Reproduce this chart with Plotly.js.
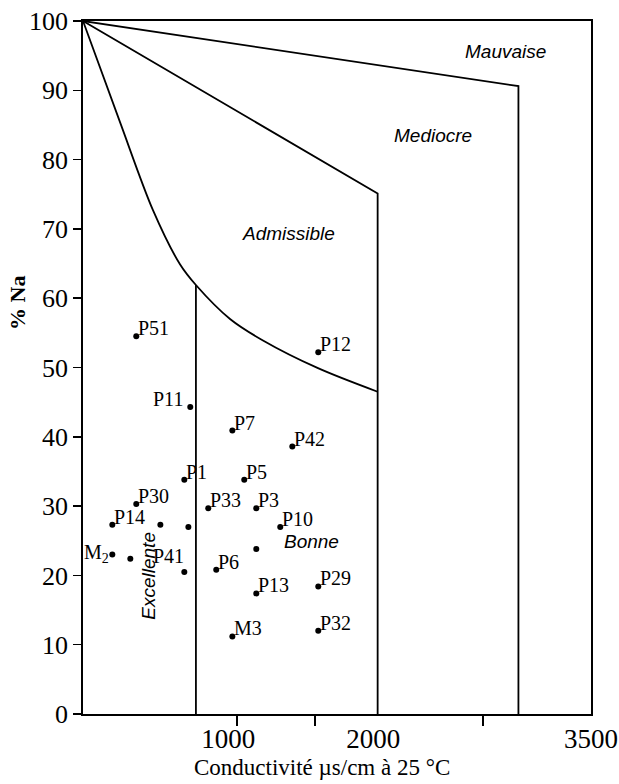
<!DOCTYPE html>
<html>
<head>
<meta charset="utf-8">
<script src="https://cdn.plot.ly/plotly-3.0.1.min.js"></script>
<style>html,body{margin:0;padding:0;background:#fff;}#chart{width:619px;height:784px;}</style>
</head>
<body>
<div id="chart"></div>
<script>
// ---- Data (Wilcox diagram) ----
const stations = ['P51','P12','P11','P7','P42','P1','P5','P30','P33','P3','P14','','','P10','','M<sub>2</sub>','','P41','P6','P13','P29','M3','P32'];
const conductivity = [367,1621,739,1029,1442,698,1111,367,863,1194,202,533,726,1359,1194,202,326,698,918,1194,1621,1029,1621];
const naPercent = [54.5,52.2,44.3,40.9,38.6,33.8,33.8,30.3,29.7,29.7,27.3,27.3,27.0,27.0,23.8,23.0,22.4,20.5,20.8,17.4,18.4,11.2,12.0];

// class boundaries
const admissibleCurveX = [0,255,482,668,778,1013,1240,1619,2030];
const admissibleCurveY = [100,85.4,72.7,64.9,61.9,57.0,53.9,49.9,46.5];
const excellenteLimitX = [778,778];
const excellenteLimitY = [61.9,0];
const mediocreLimitX = [0,2030,2030];
const mediocreLimitY = [100,75.1,0];
const mauvaiseLimitX = [0,3000,3000];
const mauvaiseLimitY = [100,90.6,0];

const classNames = ['Mauvaise','Mediocre','Admissible','Bonne','Excellente'];
const classX = [2908,2408,1419,1571,450];
const classY = [95.6,83.5,69.3,24.9,20.0];

const yTicks = [0,10,20,30,40,50,60,70,80,90,100];
const xTickLabels = [1000,2000,3500];
const xMinorTicks = [1060,1600,2755];

// ---- presentation ----
const serif = 'Liberation Serif, Times New Roman, serif';
const sans = 'Liberation Sans, Arial, sans-serif';
const lineStyle = {color:'#000', width:1.8};
const defaultPlacement = {xanchor:'left', yanchor:'bottom', xshift:1, yshift:-4};
const specialPlacement = {
  'P11': {xanchor:'right', yanchor:'bottom', xshift:-6, yshift:-4},
  'P41': {xanchor:'right', yanchor:'bottom', xshift:1, yshift:4},
  'M<sub>2</sub>': {xanchor:'right', yanchor:'middle', xshift:-2, yshift:1}
};

const traces = [
  {x:admissibleCurveX, y:admissibleCurveY, mode:'lines', line:Object.assign({shape:'spline', smoothing:0.9}, lineStyle), hoverinfo:'skip'},
  {x:excellenteLimitX, y:excellenteLimitY, mode:'lines', line:lineStyle, hoverinfo:'skip'},
  {x:mediocreLimitX, y:mediocreLimitY, mode:'lines', line:lineStyle, hoverinfo:'skip'},
  {x:mauvaiseLimitX, y:mauvaiseLimitY, mode:'lines', line:lineStyle, hoverinfo:'skip'},
  {x:conductivity, y:naPercent, mode:'markers', marker:{color:'#000', size:6}, hoverinfo:'skip'}
];

const annotations = classNames.map((t,i) => ({
  x:classX[i], y:classY[i], xref:'x', yref:'y', text:t, showarrow:false,
  xanchor:'center', yanchor:'middle',
  textangle: t === 'Excellente' ? -90 : 0,
  font:{family:sans, size:19, color:'#000', style:'italic'}
}));
stations.forEach((s,i) => {
  if (!s) return;
  const p = specialPlacement[s] || defaultPlacement;
  annotations.push(Object.assign({x:conductivity[i], y:naPercent[i], xref:'x', yref:'y', text:s, showarrow:false,
    borderpad:0, font:{family:serif, size:20, color:'#000'}}, p));
});
annotations.push({xref:'paper', yref:'paper', x:-0.13, y:0.593, xanchor:'center', yanchor:'middle', text:'<b>% Na</b>', textangle:-90,
  showarrow:false, font:{family:serif, size:22, color:'#000'}});
annotations.push({xref:'paper', yref:'paper', x:0.47, y:-0.077, xanchor:'center', yanchor:'middle', text:'Conductivité µs/cm à 25 °C',
  showarrow:false, font:{family:serif, size:23, color:'#000'}});

const layout = {
  width:619, height:784,
  margin:{l:83, r:28, t:21, b:70},
  paper_bgcolor:'#fff', plot_bgcolor:'#fff',
  showlegend:false,
  xaxis:{range:[0,3500], showgrid:false, zeroline:false, showline:true, mirror:true, linecolor:'#000', linewidth:1.8,
    tickmode:'array', tickvals:xTickLabels, ticktext:xTickLabels.map(String), ticks:'',
    tickfont:{family:serif, size:27, color:'#000'},
    minor:{tickmode:'array', tickvals:xMinorTicks, ticks:'outside', ticklen:10, tickwidth:1.5, tickcolor:'#000', showgrid:false}},
  yaxis:{range:[0,100], showgrid:false, zeroline:false, showline:true, mirror:true, linecolor:'#000', linewidth:1.8,
    tickmode:'array', tickvals:yTicks, ticks:'outside', ticklen:8, tickwidth:1.5, tickcolor:'#000',
    tickfont:{family:serif, size:26, color:'#000'}},
  annotations:annotations
};

Plotly.newPlot('chart', traces, layout, {displayModeBar:false, staticPlot:true});
</script>
</body>
</html>
